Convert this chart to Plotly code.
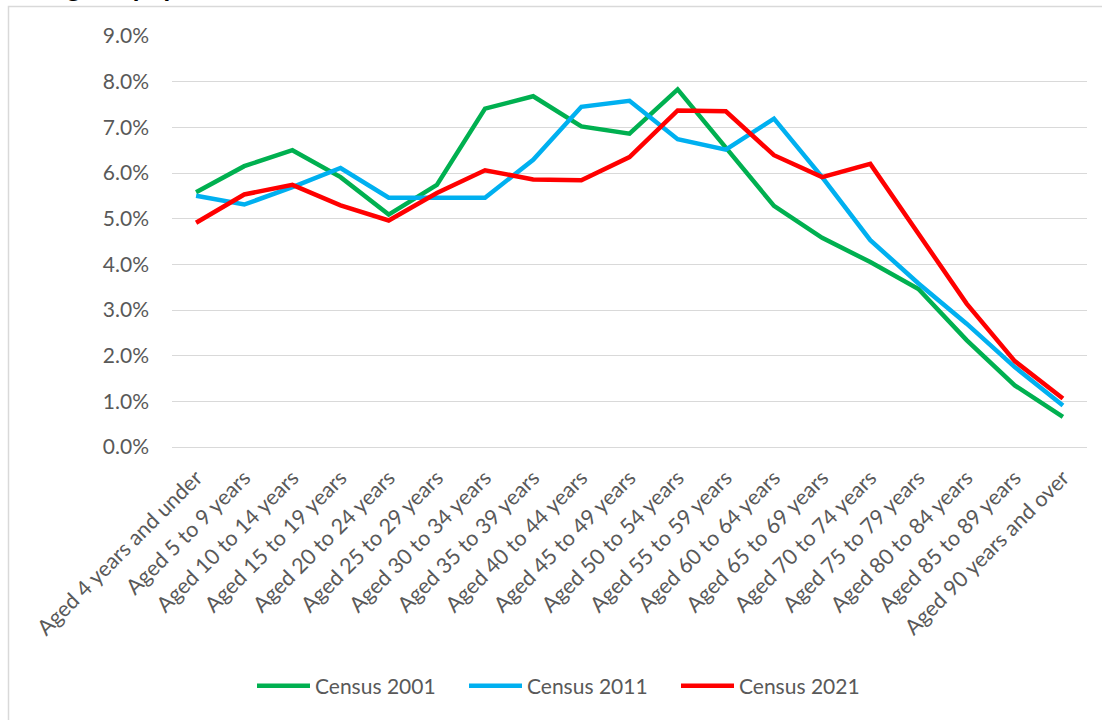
import plotly.graph_objects as go

categories = [
    "Aged 4 years and under", "Aged 5 to 9 years", "Aged 10 to 14 years",
    "Aged 15 to 19 years", "Aged 20 to 24 years", "Aged 25 to 29 years",
    "Aged 30 to 34 years", "Aged 35 to 39 years", "Aged 40 to 44 years",
    "Aged 45 to 49 years", "Aged 50 to 54 years", "Aged 55 to 59 years",
    "Aged 60 to 64 years", "Aged 65 to 69 years", "Aged 70 to 74 years",
    "Aged 75 to 79 years", "Aged 80 to 84 years", "Aged 85 to 89 years",
    "Aged 90 years and over",
]

census_2001 = [5.58, 6.15, 6.50, 5.91, 5.09, 5.74, 7.41, 7.68, 7.02, 6.86,
               7.83, 6.55, 5.28, 4.58, 4.05, 3.46, 2.34, 1.35, 0.66]
census_2011 = [5.50, 5.31, 5.69, 6.11, 5.46, 5.46, 5.46, 6.29, 7.45, 7.58,
               6.74, 6.51, 7.19, 5.91, 4.53, 3.58, 2.70, 1.75, 0.91]
census_2021 = [4.91, 5.53, 5.74, 5.29, 4.96, 5.56, 6.06, 5.86, 5.84, 6.35,
               7.37, 7.35, 6.39, 5.91, 6.20, 4.67, 3.14, 1.88, 1.06]

series_names = ["Census 2001", "Census 2011", "Census 2021"]
series_values = [census_2001, census_2011, census_2021]
series_colors = ["#00B050", "#00B0F0", "#FF0000"]

title_text = "Age of population"

FONT = "Lato"
GRAY = "#595959"
GRID = "#D9D9D9"

fig = go.Figure()
for name, vals, col in zip(series_names, series_values, series_colors):
    fig.add_trace(go.Scatter(
        x=categories, y=vals, name=name, mode="lines",
        line=dict(color=col, width=4.5),
    ))

W, H = 1102, 720
L, R, T, B = 172, 15, 36, 273
pw = W - L - R
ph = H - T - B

def px_x(p):
    return (p - L) / pw

def px_y(p):
    return (H - B - p) / ph

fig.update_layout(
    width=W, height=H,
    margin=dict(l=L, r=R, t=T, b=B, autoexpand=False),
    paper_bgcolor="white", plot_bgcolor="white",
    font=dict(family=FONT, size=21, color=GRAY),
    showlegend=True,
    legend=dict(
        orientation="h", x=px_x(570), xanchor="center",
        y=px_y(686), yanchor="middle",
        font=dict(family=FONT, size=21, color=GRAY),
        itemwidth=53, entrywidth=144,
        bgcolor="rgba(0,0,0,0)",
    ),
    xaxis=dict(
        type="category", range=[-0.5, len(categories) - 0.5],
        tickangle=-45, showgrid=False, zeroline=False,
        showline=False, ticks="", tickfont=dict(family=FONT, size=21.5, color=GRAY),
        ticklabelstandoff=13,
    ),
    yaxis=dict(
        range=[0, 9], dtick=1, tickformat=".1f", ticksuffix="%",
        showgrid=True, gridcolor=GRID, gridwidth=1.3,
        zeroline=True, zerolinecolor=GRID, zerolinewidth=1.3,
        showline=False, ticks="", tickfont=dict(family=FONT, size=21, color=GRAY),
        ticklabelstandoff=22,
    ),
    shapes=[dict(
        type="rect", xref="paper", yref="paper",
        x0=px_x(8.5), x1=px_x(1200), y0=px_y(800), y1=px_y(6.5),
        line=dict(color=GRID, width=1.5), fillcolor="rgba(0,0,0,0)", layer="below",
    )],
    annotations=[dict(
        text="<b>" + title_text + "</b>", xref="paper", yref="paper",
        x=px_x(45), xanchor="left", y=px_y(5), yanchor="bottom",
        showarrow=False, font=dict(family=FONT, size=27, color="black"),
    )],
)

fig.write_html("out.html", config={"displayModeBar": False},
               post_script="document.body.style.margin='0';")
